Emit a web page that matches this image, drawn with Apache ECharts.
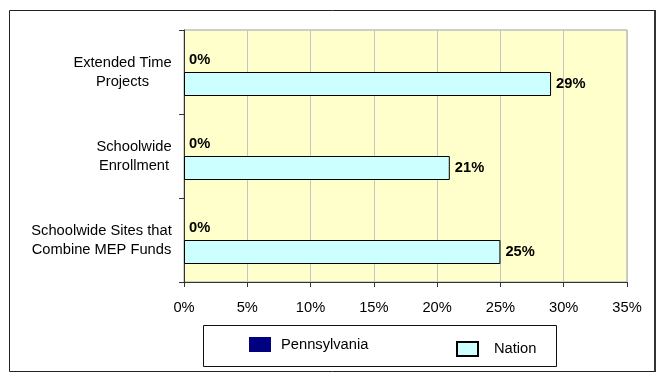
<!DOCTYPE html>
<html>
<head>
<meta charset="utf-8">
<script src="https://cdn.jsdelivr.net/npm/echarts@6/dist/echarts.min.js"></script>
<style>
html,body{margin:0;padding:0;background:#fff;}
#chart{width:668px;height:373px;}
</style>
</head>
<body>
<div id="chart"></div>
<script>
const categories = ['Extended Time\nProjects', 'Schoolwide\nEnrollment', 'Schoolwide Sites that\nCombine MEP Funds'];
const pennsylvania = [0, 0, 0];
const nation = [29, 21, 25];
const xTicks = [0, 5, 10, 15, 20, 25, 30, 35];

const FONT = '"Liberation Sans", Arial, sans-serif';
const FS = 14.7;

const ctx = document.createElement('canvas').getContext('2d');
ctx.font = FS + 'px "Liberation Sans"';
const rich = {};
categories.forEach((c, i) => {
  const w = Math.max(...c.split('\n').map(l => ctx.measureText(l).width));
  rich['c' + i] = { width: Math.ceil(w), align: 'center', fontSize: FS, fontFamily: FONT, lineHeight: 19, color: '#000' };
});

const chart = echarts.init(document.getElementById('chart'));
chart.setOption({
  animation: false,
  backgroundColor: '#fff',
  textStyle: { fontFamily: FONT },
  grid: {
    left: 184, right: 41, top: 30, bottom: 91,
    show: true, backgroundColor: '#FFFFCC', borderColor: '#a0a0a0', borderWidth: 1
  },
  xAxis: {
    type: 'value',
    min: xTicks[0], max: xTicks[xTicks.length - 1], interval: 5,
    axisLine: { show: true, lineStyle: { color: '#333', width: 1 } },
    axisTick: { show: true, length: 5, lineStyle: { color: '#333' } },
    splitLine: { show: true, lineStyle: { color: '#c4c4c4', width: 1 } },
    axisLabel: { formatter: '{value}%', fontSize: FS, color: '#000', margin: 18, fontFamily: FONT }
  },
  yAxis: {
    type: 'category',
    inverse: true,
    data: categories,
    axisLine: { show: true, lineStyle: { color: '#333', width: 1 } },
    axisTick: { show: true, length: 5, lineStyle: { color: '#333' } },
    axisLabel: {
      margin: 12,
      formatter: (v, idx) => v.split('\n').map(l => '{c' + idx + '|' + l + '}').join('\n'),
      rich: rich
    }
  },
  legend: [
    {
      left: 249, top: 337, padding: 0, itemWidth: 22, itemHeight: 15,
      icon: 'rect', data: ['Pennsylvania'],
      textStyle: { fontSize: FS, color: '#000', fontFamily: FONT, padding: [0, 0, 0, 5] }
    },
    {
      left: 456, top: 341, padding: 0, itemWidth: 21, itemHeight: 14,
      icon: 'rect', data: ['Nation'],
      textStyle: { fontSize: FS, color: '#000', fontFamily: FONT, padding: [0, 0, 0, 11] }
    }
  ],
  graphic: [
    { type: 'rect', shape: { x: 9.5, y: 10.5, width: 646, height: 361 }, style: { fill: 'none', stroke: '#222', lineWidth: 1 }, silent: true, z: 0 },
    { type: 'line', shape: { x1: 655, y1: 10, x2: 655, y2: 372 }, style: { stroke: '#333', lineWidth: 2 }, silent: true, z: 0 },
    { type: 'rect', shape: { x: 203.5, y: 325.5, width: 353, height: 41 }, style: { fill: '#fff', stroke: '#111', lineWidth: 1 }, silent: true, z: 0 }
  ],
  series: [
    {
      name: 'Pennsylvania', type: 'bar', data: pennsylvania,
      barWidth: 24, barGap: '0%',
      itemStyle: { color: '#000080', borderWidth: 0 },
      label: { show: true, position: 'right', distance: 5, formatter: '{c}%', fontWeight: 'bold', fontSize: FS, color: '#000', fontFamily: FONT }
    },
    {
      name: 'Nation', type: 'bar', data: nation,
      barWidth: 24, barGap: '0%',
      itemStyle: { color: '#CCFFFF', borderColor: '#000', borderWidth: 1 },
      label: { show: true, position: 'right', distance: 5, formatter: '{c}%', fontWeight: 'bold', fontSize: FS, color: '#000', fontFamily: FONT }
    }
  ]
});
</script>
</body>
</html>
